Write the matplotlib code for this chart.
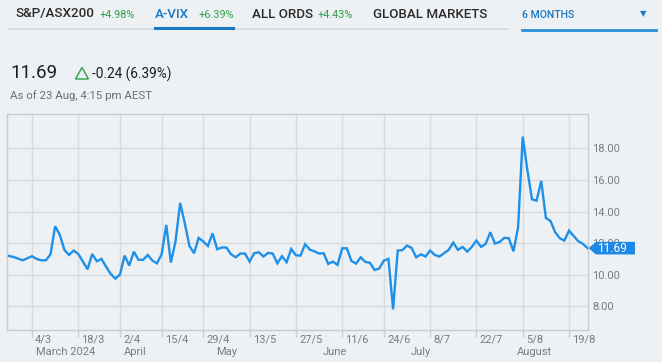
"""A-VIX 6-month chart, trading-day axis."""

import matplotlib

matplotlib.use("Agg")
import matplotlib.pyplot as plt
from matplotlib.lines import Line2D
from matplotlib.patches import Polygon
import matplotlib.transforms as mtransforms

# ---- data (one value per trading day, 26 Feb -> 23 Aug 2024) ----
vix = [
    11.20, 11.13, 11.03, 10.92, 11.05, 11.18, 11.01, 10.92, 10.92, 11.30,
    13.08, 12.53, 11.58, 11.26, 11.54, 11.32, 10.84, 10.35, 11.32, 10.86,
    11.01, 10.52, 10.06, 9.76, 10.02, 11.22, 10.59, 11.47, 10.95, 10.95,
    11.26, 10.90, 10.73, 11.30, 13.16, 10.78, 12.11, 14.55, 13.27, 11.83,
    11.37, 12.34, 12.11, 11.83, 12.63, 11.62, 11.73, 11.73, 11.30, 11.11,
    11.35, 11.35, 10.84, 11.37, 11.43, 11.16, 11.39, 11.35, 10.73, 11.18,
    10.80, 11.64, 11.24, 11.22, 11.94, 11.60, 11.49, 11.35, 11.37, 10.69,
    10.84, 10.63, 11.68, 11.68, 10.88, 10.71, 11.11, 10.82, 10.76, 10.31,
    10.40, 10.90, 11.01, 7.82, 11.54, 11.56, 11.85, 11.70, 11.11, 11.30,
    11.16, 11.54, 11.26, 11.16, 11.37, 11.58, 12.04, 11.58, 11.77, 11.47,
    11.77, 12.17, 11.77, 11.96, 12.70, 11.98, 12.08, 12.34, 12.32, 11.49,
    13.01, 18.75, 16.64, 14.78, 14.70, 15.95, 13.60, 13.41, 12.70, 12.32,
    12.17, 12.80, 12.46, 12.13, 11.96, 11.69,
]
tick_idx = [5, 15, 24, 33, 42, 52, 62, 72, 81, 91, 101, 111, 121]
tick_labels = ["4/3", "18/3", "2/4", "15/4", "29/4", "13/5", "27/5",
               "11/6", "24/6", "8/7", "22/7", "5/8", "19/8"]
month_idx = [5, 24, 44, 67, 86, 109]
month_labels = ["March 2024", "April", "May", "June", "July", "August"]
y_ticks = [8, 10, 12, 14, 16, 18]

tabs = [("S&P/ASX200", "+4.98%"), ("A-VIX", "+6.39%"), ("ALL ORDS", "+4.43%"),
        ("GLOBAL MARKETS", "")]
last_value = "11.69"
change_text = "-0.24 (6.39%)"
as_of = "As of 23 Aug, 4:15 pm AEST"

# ---- style ----
W, H = 662, 362
BG = "#eef1f4"
BLUE = "#1e90e8"
TAB_BLUE = "#1a78c2"
GREEN = "#2e9e48"
GRID = "#d9dcdf"
LABEL = "#7a7d80"

plt.rcParams["font.family"] = ["Roboto", "DejaVu Sans"]


def fx(px):
    return px / W


def fy(py):
    return 1 - py / H


fig = plt.figure(figsize=(W / 100, H / 100), dpi=100, facecolor=BG)

# ---- header tabs ----
tab_x = [(15, 100), (155, 199), (252, 318), (373, None)]
for (name, pct), (x1, x2) in zip(tabs, tab_x):
    col = TAB_BLUE if name == "A-VIX" else "#2b2b2b"
    fig.text(fx(x1), fy(14), name, fontsize=9.6, color=col, va="center",
             fontweight="medium")
    if pct:
        fig.text(fx(x2), fy(15), pct, fontsize=7.8, color=GREEN, va="center")
fig.text(fx(522), fy(15), "6 MONTHS", fontsize=7.6, color=TAB_BLUE,
         va="center", fontweight="medium")
fig.text(fx(643), fy(14), "\u25bc", fontsize=6, color=TAB_BLUE, va="center",
         ha="center", family="DejaVu Sans")

fig.add_artist(Line2D([fx(8), fx(508)], [fy(29), fy(29)], color="#d6d9dc", lw=1.2))
fig.add_artist(Line2D([fx(155), fx(233)], [fy(28), fy(28)], color=TAB_BLUE, lw=2.2))
fig.add_artist(Line2D([fx(522), fx(656)], [fy(30), fy(30)], color="#2a90da", lw=2.0))

# ---- quote block ----
fig.text(fx(10), fy(73), last_value, fontsize=13.5, color="#1c1c1c", va="center")
tri = Polygon([(fx(75.5), fy(79)), (fx(88.5), fy(79)), (fx(82), fy(67.5))],
              closed=True, fill=False, edgecolor=GREEN, lw=1.0,
              transform=fig.transFigure)
fig.add_artist(tri)
fig.text(fx(92), fy(74), change_text, fontsize=9.8, color="#1c1c1c", va="center")
fig.text(fx(10), fy(96), as_of, fontsize=8.2, color="#6b6e71", va="center")

# ---- chart ----
left, right, top, bottom = 7, 588, 114, 330
ax = fig.add_axes([fx(left), fy(bottom), fx(right - left), (bottom - top) / H])
ax.set_facecolor(BG)
ymin, ymax = 6.51, 20.18
ax.set_xlim(-0.4, len(vix) - 0.9)
ax.set_ylim(ymin, ymax)

ax.plot(range(len(vix)), vix, color=BLUE, lw=1.7, solid_joinstyle="miter",
        zorder=3)

for s in ax.spines.values():
    s.set_color("#c9ccd0")
    s.set_linewidth(1.0)

ax.set_yticks(y_ticks)
ax.yaxis.tick_right()
ax.set_yticklabels([f"{v:.2f}" for v in y_ticks])
ax.tick_params(axis="y", length=0, pad=3, labelsize=8, labelcolor=LABEL)
ax.grid(True, axis="y", color=GRID, lw=1.0)

ax.set_xticks(tick_idx)
ax.set_xticklabels([])
ax.tick_params(axis="x", length=5, color="#c9ccd0", width=1.0)
ax.grid(True, axis="x", color=GRID, lw=1.0)
ax.set_axisbelow(True)

trans = mtransforms.blended_transform_factory(ax.transData, ax.transAxes)
lab_tr = mtransforms.offset_copy(trans, fig=fig, x=2.3, y=0, units="points")
for i, lab in zip(tick_idx, tick_labels):
    ax.text(i, -0.045, lab, transform=lab_tr, fontsize=8, color=LABEL,
            ha="left", va="center")
mon_tr = mtransforms.offset_copy(trans, fig=fig, x=2.8, y=0, units="points")
for i, lab in zip(month_idx, month_labels):
    ax.text(i, -0.1, lab, transform=mon_tr, fontsize=8, color=LABEL,
            ha="left", va="center")

# last-value tag (covers the 12.00 label, as in the source)
last = vix[-1]
ty = fig.transFigure.inverted().transform(ax.transData.transform((0, last)))[1]
h = 6.3 / H
tag = Polygon(
    [(fx(588.5), ty), (fx(596), ty + h), (fx(635), ty + h),
     (fx(635), ty - h), (fx(596), ty - h)],
    closed=True, facecolor="#1e88e5", edgecolor="none",
    transform=fig.transFigure, zorder=5,
)
fig.add_artist(tag)
fig.text(fx(597), ty, f"{last:.2f}", fontsize=8.6, color="white", va="center",
         zorder=6)

fig.savefig("out.png", dpi=100, facecolor=BG)
